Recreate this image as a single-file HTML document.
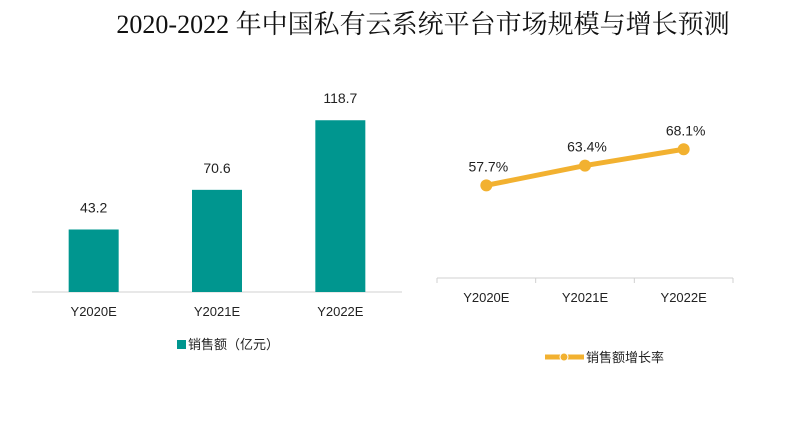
<!DOCTYPE html>
<html><head><meta charset="utf-8"><style>
body{margin:0;background:#fff;width:790px;height:425px;overflow:hidden}
svg{display:block}
text{font-family:"Liberation Sans","Noto Sans CJK SC",sans-serif}
</style></head><body>
<svg width="790" height="425">
<text x="423" y="33" text-anchor="middle" font-size="26" fill="#111" style="font-family:'Liberation Serif','Noto Serif CJK SC',serif">2020-2022 年中国私有云系统平台市场规模与增长预测</text>
<g id="bars"></g>
<g id="line"></g>
</svg>
<script>
const categories=["Y2020E","Y2021E","Y2022E"];
const salesValues=[43.2,70.6,118.7];
const growthValues=[57.7,63.4,68.1];
const growthLabels=["57.7%","63.4%","68.1%"];
const NS="http://www.w3.org/2000/svg";
function mk(p,t,a){const e=document.createElementNS(NS,t);for(const k in a)e.setAttribute(k,a[k]);p.appendChild(e);return e;}
// bar chart
const bg=document.getElementById('bars');
const bx0=32,bx1=402,base=292;
const bStep=(bx1-bx0)/categories.length;
const bx=i=>bx0+bStep*(i+0.5);
const by=v=>base-v*1.447;
let ax=mk(bg,'line',{x1:bx0,x2:bx1,y1:base,y2:base,stroke:'#d0d0d0','stroke-width':1});

categories.forEach((c,i)=>{
 const r=mk(bg,'rect',{x:bx(i)-25,y:by(salesValues[i]),width:50,height:base-by(salesValues[i]),fill:'#00968f'});
 
 const t=mk(bg,'text',{x:bx(i),y:by(salesValues[i])-17,'text-anchor':'middle','font-size':14,fill:'#222'});t.textContent=salesValues[i];
 
 const l=mk(bg,'text',{x:bx(i),y:316,'text-anchor':'middle','font-size':13,fill:'#222'});l.textContent=c;
 
});
let lr=mk(bg,'rect',{x:177,y:340,width:9,height:9,fill:'#00968f'});

let lt=mk(bg,'text',{x:188,y:349,'font-size':13,fill:'#222'});lt.textContent='销售额（亿元）';

// line chart
const lg=document.getElementById('line');
const lx0=437,lx1=733,lbase=278;
const lStep=(lx1-lx0)/categories.length;
const lx=i=>lx0+lStep*(i+0.5);
const ly=v=>lbase-(v-31)*3.47;
let la=mk(lg,'line',{x1:lx0,x2:lx1,y1:lbase,y2:lbase,stroke:'#d0d0d0','stroke-width':1});

for(let i=0;i<=categories.length;i++){const tk=mk(lg,'line',{x1:lx0+lStep*i,x2:lx0+lStep*i,y1:lbase,y2:lbase+5,stroke:'#d0d0d0'});
 }
const pts=growthValues.map((v,i)=>lx(i)+','+ly(v)).join(' ');
let pl=mk(lg,'polyline',{points:pts,fill:'none',stroke:'#f2b130','stroke-width':5});

categories.forEach((c,i)=>{
 const p=mk(lg,'circle',{cx:lx(i),cy:ly(growthValues[i]),r:6,fill:'#f2b130'});
 
 const t=mk(lg,'text',{x:lx(i)+2,y:ly(growthValues[i])-14,'text-anchor':'middle','font-size':14,fill:'#222'});t.textContent=growthLabels[i];
 
 const l=mk(lg,'text',{x:lx(i),y:302,'text-anchor':'middle','font-size':13,fill:'#222'});l.textContent=c;
 
});
let ll=mk(lg,'line',{x1:545,x2:584,y1:357,y2:357,stroke:'#f2b130','stroke-width':5});

let lc=mk(lg,'circle',{cx:564,cy:357,r:4,fill:'#f2b130',stroke:'#fff','stroke-width':1});

let lt2=mk(lg,'text',{x:586,y:362,'font-size':13,fill:'#222'});lt2.textContent='销售额增长率';

</script>
</body></html>
